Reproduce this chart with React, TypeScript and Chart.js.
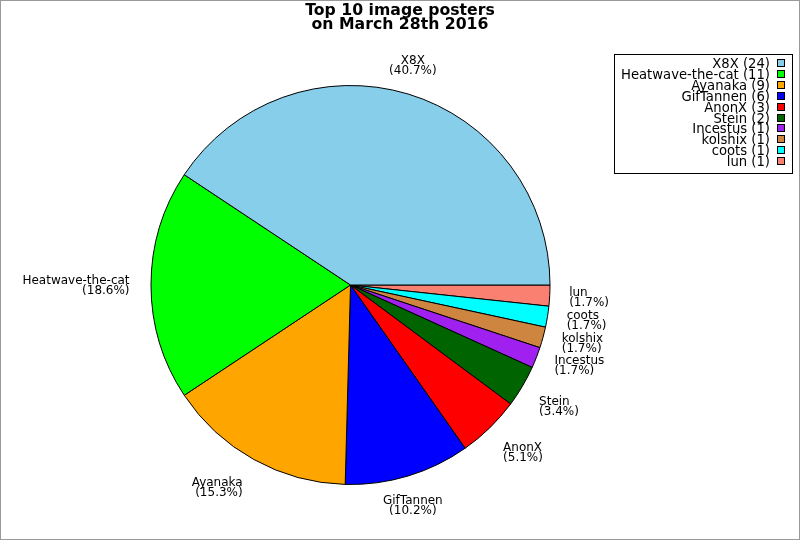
import React, { useEffect, useRef } from "react";
import { Chart, registerables } from "chart.js";

Chart.register(...registerables);

const names = ["X8X", "Heatwave-the-cat", "Ayanaka", "GifTannen", "AnonX", "Stein", "Incestus", "kolshix", "coots", "lun"];
const counts = [24, 11, 9, 6, 3, 2, 1, 1, 1, 1];
const colors = ["#87CEEB", "#00FF00", "#FFA500", "#0000FF", "#FF0000", "#006400", "#A020F0", "#CD853F", "#00FFFF", "#FA8072"];
const titleLines = ["Top 10 image posters", "on March 28th 2016"];

const FONT = "DejaVu Sans";

export default function App() {
  const ref = useRef<HTMLCanvasElement | null>(null);
  useEffect(() => {
    document.body.style.margin = "0";
    const canvas = ref.current!;
    const total = counts.reduce((a, b) => a + b, 0);
    // reversed so that clockwise drawing from 3 o'clock yields counter-clockwise order
    const rNames = [...names].reverse();
    const rCounts = [...counts].reverse();
    const rColors = [...colors].reverse();

    const overlay = {
      id: "overlay",
      beforeDraw(chart: any) {
        const ctx = chart.ctx;
        ctx.save();
        ctx.fillStyle = "#ffffff";
        ctx.fillRect(0, 0, chart.width, chart.height);
        ctx.restore();
      },
      afterDraw(chart: any) {
        const ctx = chart.ctx as CanvasRenderingContext2D;
        ctx.save();
        // border
        ctx.strokeStyle = "#999999";
        ctx.lineWidth = 1;
        ctx.strokeRect(0.5, 0.5, chart.width - 1, chart.height - 1);
        // title
        ctx.fillStyle = "#000";
        ctx.font = `bold 15.7px "${FONT}"`;
        ctx.textAlign = "center";
        ctx.textBaseline = "alphabetic";
        titleLines.forEach((t, i) => ctx.fillText(t, 400, 15 + i * 13.5));
        // slice labels
        const meta = chart.getDatasetMeta(0);
        ctx.font = `12px "${FONT}"`;
        meta.data.forEach((arc: any, i: number) => {
          const { x, y, startAngle, endAngle, outerRadius } = arc.getProps(["x", "y", "startAngle", "endAngle", "outerRadius"], true);
          const mid = (startAngle + endAngle) / 2;
          const r = outerRadius * 1.1;
          const ax = x + r * Math.cos(mid);
          const ay = y + r * Math.sin(mid);
          const elev = Math.abs(Math.asin(Math.sin(mid))) * 180 / Math.PI;
          let align: CanvasTextAlign = "center";
          if (elev <= 65) align = Math.cos(mid) > 0 ? "left" : "right";
          let top: number;
          if (elev < 25) top = ay - 10;
          else top = Math.sin(mid) > 0 ? ay : ay - 20;
          const pct = ((rCounts[i] / total) * 100).toFixed(1);
          const lines = [rNames[i], `(${pct}%)`];
          const widths = lines.map((l) => ctx.measureText(l).width);
          const bw = Math.max(...widths);
          let left: number;
          if (align === "left") left = ax - 0.5;
          else if (align === "right") left = ax - bw - 1.5;
          else left = ax - bw / 2 - 1;
          ctx.textAlign = "left";
          lines.forEach((l, k) => {
            let lx = left;
            if (align === "right") lx = left + bw - widths[k];
            else if (align === "center") lx = left + (bw - widths[k]) / 2;
            ctx.fillText(l, lx, top + 9 + k * 10);
          });
        });
        // legend
        const lx0 = 614.5, ly0 = 54.5, lw = 178, lh = 119;
        ctx.fillStyle = "#fff";
        ctx.fillRect(lx0, ly0, lw, lh);
        ctx.strokeStyle = "#000";
        ctx.lineWidth = 1;
        ctx.strokeRect(lx0, ly0, lw, lh);
        ctx.font = `13.2px "${FONT}"`;
        ctx.textAlign = "right";
        names.forEach((n, i) => {
          const by = 68 + i * 10.9;
          ctx.fillStyle = "#000";
          ctx.fillText(`${n} (${counts[i]})`, 770, by);
          const bx = 777.5, bt = Math.round(by - 9) + 0.5;
          ctx.fillStyle = colors[i];
          ctx.fillRect(bx, bt, 7, 7);
          ctx.strokeStyle = "#000";
          ctx.strokeRect(bx, bt, 7, 7);
        });
        ctx.restore();
      },
    };

    const chart = new Chart(canvas, {
      type: "pie",
      data: {
        labels: rNames,
        datasets: [
          {
            data: rCounts,
            backgroundColor: rColors,
            borderColor: "#000000",
            borderWidth: 1,
            borderAlign: "center",
          },
        ],
      },
      options: {
        responsive: false,
        animation: false,
        devicePixelRatio: 1,
        rotation: 90,
        radius: 199.5,
        layout: { padding: { left: 151, right: 250, top: 85.5, bottom: 55.5 } },
        plugins: {
          legend: { display: false },
          title: { display: false },
          tooltip: { enabled: false },
        },
      } as any,
      plugins: [overlay],
    });
    return () => chart.destroy();
  }, []);
  return <canvas ref={ref} width={800} height={540} style={{ display: "block" }} />;
}
